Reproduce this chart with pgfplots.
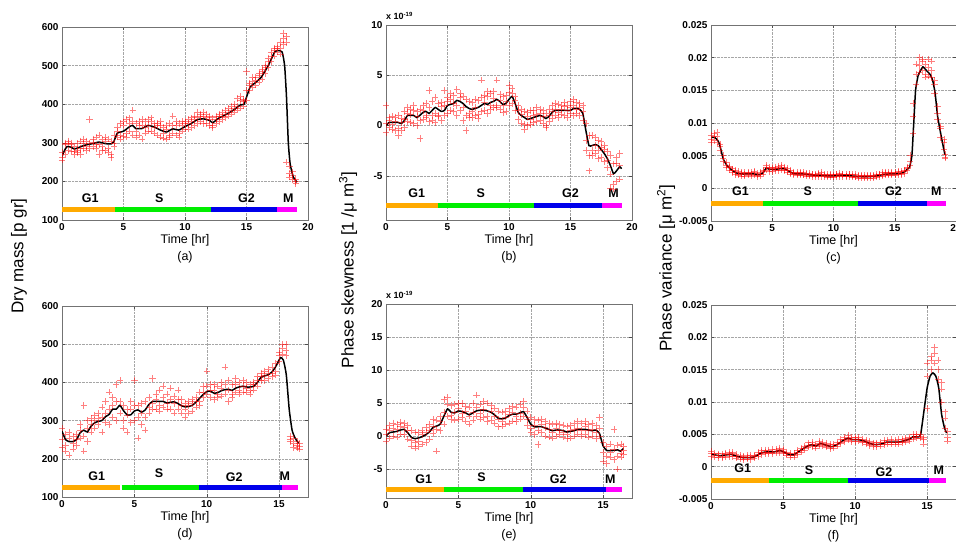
\documentclass[border=0pt]{standalone}
\usepackage{pgfplots}
\pgfplotsset{compat=1.18}
\usepackage{pgfplotstable}
\usepackage{fontspec}
\setmainfont{Liberation Sans}
\definecolor{cGa}{RGB}{255,170,0}
\definecolor{cS}{RGB}{0,238,0}
\definecolor{cGb}{RGB}{0,0,235}
\definecolor{cM}{RGB}{255,0,255}
\tikzset{lab/.style={font=\bfseries\fontsize{12.5}{14}\selectfont}}
\pgfplotsset{
  panel/.style={scale only axis, anchor=south west,
    axis line style={black!55}, tick style={black!70, line width=0.4pt}, major tick length=3pt,
    grid=major, major grid style={densely dotted, black!35},
    tick label style={font=\bfseries\fontsize{10}{12}\selectfont},
    scaled ticks=false,
    xlabel style={font=\fontsize{12.5}{17}\selectfont, align=center, at={(axis description cs:0.5,0)}, anchor=north, yshift=-11pt},
    xmin=0},
  sc/.style={only marks, mark=+, mark size=3.2pt, red, opacity=0.5, line width=0.5pt},
  ln/.style={black, line width=1.5pt, mark=none, smooth, tension=0.3},
  pb/.style={line width=5pt, mark=none}
}
% ---------- panel (a) ----------
\pgfplotstableread{
t a b c
0.00 255 275 262
0.25 270 295 300
0.50 300 280 305
0.75 278 295 300
1.00 270 290 278
1.25 298 280 275
1.50 305 285 270
1.75 285 300 310
2.00 280 305 290
2.25 360 285 300
2.50 310 290 302
2.75 285 315 295
3.00 320 295 270
3.25 290 310 280
3.50 315 280 305
3.75 310 275 285
4.00 270 305 262
4.25 290 320 300
4.50 340 315 330
4.75 350 320 310
5.00 345 318 355
5.25 360 325 315
5.50 365 330 350
5.75 385 320 355
6.00 350 315 330
6.25 320 355 345
6.50 310 345 360
6.75 355 325 340
7.00 360 330 345
7.25 330 355 365
7.50 325 350 340
7.75 350 320 345
8.00 315 345 355
8.25 340 312 325
8.50 310 345 335
8.75 350 320 315
9.00 370 325 345
9.25 345 320 355
9.50 350 325 315
9.75 355 330 345
10.00 335 355 350
10.25 360 335 350
10.50 340 365 355
10.75 370 345 360
11.00 380 350 365
11.25 355 375 368
11.50 370 350 380
11.75 375 350 365
12.00 345 370 360
12.25 365 345 340
12.50 350 370 360
12.75 355 375 368
13.00 380 360 370
13.25 365 385 375
13.50 390 370 380
13.75 375 395 385
14.00 400 380 390
14.25 385 415 395
14.50 410 390 420
14.75 395 412 408
15.00 435 410 485
15.25 450 435 455
15.50 460 445 470
15.75 470 450 462
16.00 475 458 480
16.25 485 465 490
16.50 500 480 495
16.75 510 495 520
17.00 525 510 535
17.25 540 525 545
17.50 550 535 545
17.75 545 560 530
18.00 570 555 585
18.25 575 560 250
18.50 220 240 212
18.75 215 205 225
19.00 200 195 205
}\tA
\pgfplotstableread{
t v
0 265
0.2 280
0.4 290
0.7 289
1.0 284
1.3 287
1.6 291
2.0 295
2.5 298
3.0 302
3.5 298
4.0 297
4.2 302
4.5 325
5.0 330
5.5 342
5.75 345
6.0 337
6.5 337
7.0 345
7.5 341
8.0 333
8.5 328
9.0 336
9.5 333
10.0 342
10.5 350
11.0 360
11.5 362
12.0 358
12.25 352
12.75 364
13.5 376
14.0 386
14.5 398
14.8 400
15.0 418
15.3 445
15.7 455
16.2 470
16.8 502
17.3 536
17.6 539
17.9 535
18.1 500
18.25 420
18.4 300
18.55 245
18.8 212
19.1 198
}\lA
% ---------- panel (b) ----------
\pgfplotstableread{
t a b c
0.00 0.2 -0.7 2.0
0.25 0.8 -0.2 0.5
0.50 -0.4 0.9 0.1
0.75 0.8 -0.5 0.4
1.00 -0.3 1.0 -1.0
1.25 0.7 -0.5 0.3
1.50 1.4 -0.2 0.6
1.75 0.4 1.8 1.2
2.00 1.6 0.3 1.1
2.25 0.2 1.5 2.0
2.50 1.4 0.0 0.9
2.75 -1.3 1.6 0.5
3.00 2.0 0.6 1.5
3.25 0.8 2.2 1.0
3.50 3.5 0.4 1.8
3.75 1.0 2.4 0.5
4.00 2.8 1.2 0.3
4.25 1.0 2.2 0.9
4.50 2.3 0.5 1.9
4.75 3.5 1.0 2.0
5.00 2.8 1.2 2.4
5.25 3.2 1.5 2.6
5.50 1.4 3.0 2.2
5.75 3.6 2.0 1.0
6.00 1.5 3.2 2.8
6.25 0.5 2.9 1.8
6.50 2.6 1.0 -0.5
6.75 1.2 2.4 0.8
7.00 2.3 0.8 1.4
7.25 1.0 2.6 1.8
7.50 2.5 1.1 0.7
7.75 4.5 1.4 2.8
8.00 1.5 3.0 2.3
8.25 2.9 1.2 3.4
8.50 1.6 3.2 2.0
8.75 3.4 1.8 2.7
9.00 4.5 2.0 1.8
9.25 1.6 3.1 2.5
9.50 2.9 1.3 2.0
9.75 1.4 3.0 2.4
10.00 4.0 2.0 3.3
10.25 3.7 2.2 3.2
10.50 1.5 2.9 2.5
10.75 2.0 0.6 1.5
11.00 0.2 1.6 1.1
11.25 1.4 0.1 -0.4
11.50 0.0 1.3 0.9
11.75 1.5 0.1 0.6
12.00 0.3 1.5 1.0
12.25 1.8 0.4 1.1
12.50 0.5 1.6 1.2
12.75 1.5 0.2 0.9
13.00 0.0 1.2 -0.2
13.25 1.6 0.4 1.0
13.50 0.7 2.0 1.4
13.75 2.2 1.0 1.6
14.00 0.8 2.1 1.3
14.25 2.0 1.1 1.6
14.50 1.0 2.3 1.9
14.75 2.0 0.8 1.5
15.00 2.4 1.2 1.8
15.25 1.0 2.6 2.0
15.50 2.3 1.2 1.6
15.75 1.0 2.2 1.8
16.00 2.0 0.5 1.4
16.25 -1.5 0.2 -2.5
16.50 -3.0 -1.0 -4.5
16.75 -2.5 -1.0 -3.0
17.00 -1.2 -2.8 -2.0
17.25 -2.5 -1.5 -3.3
17.50 -1.6 -3.2 -2.2
17.75 -2.4 -3.6 -2.0
18.00 -3.5 -2.6 -4.2
18.25 -3.0 -6.2 -4.8
18.50 -5.8 -3.8 -6.3
18.75 -3.2 -5.5 -3.8
19.00 -2.8 -5.3 -4.0
}\tB
\pgfplotstableread{
t v
0 0.0
0.25 0.3
0.5 0.3
0.75 0.3
1.0 0.3
1.25 0.2
1.5 0.5
1.75 1.0
2.0 1.0
2.25 1.0
2.5 0.8
2.75 1.0
3.0 1.3
3.25 1.4
3.5 1.2
3.75 1.5
4.0 1.8
4.25 1.6
4.5 1.4
4.75 1.5
5.0 2.0
5.25 2.1
5.5 2.2
5.75 2.5
6.0 2.4
6.25 2.2
6.5 1.9
6.75 1.7
7.0 1.6
7.25 1.7
7.5 1.8
7.75 2.0
8.0 2.2
8.25 2.1
8.5 2.3
8.75 2.4
9.0 2.6
9.25 2.4
9.5 2.1
9.75 2.2
10.0 2.6
10.25 2.9
10.5 2.2
10.75 1.3
11.0 1.0
11.25 0.8
11.5 0.6
11.75 0.7
12.0 0.8
12.25 0.9
12.5 1.0
12.75 0.9
13.0 0.7
13.25 0.9
13.5 1.3
13.75 1.5
14.0 1.5
14.5 1.5
15.0 1.5
15.25 1.7
15.5 1.7
15.75 1.6
16.0 1.2
16.25 -0.5
16.5 -2.0
16.75 -2.0
17.0 -1.9
17.25 -2.0
17.5 -2.4
17.75 -2.8
18.0 -3.3
18.25 -4.0
18.5 -4.8
18.75 -4.5
19.0 -4.1
19.15 -4.3
}\lB
% ---------- panel (c) ----------
\pgfplotstableread{
t a b c
0.00 0.0075 0.0082 0.0070
0.25 0.0084 0.0073 0.0080
0.50 0.0070 0.0079 0.0086
0.75 0.0068 0.0058 0.0065
1.00 0.0050 0.0041 0.0046
1.25 0.0033 0.0040 0.0035
1.50 0.0034 0.0028 0.0032
1.75 0.0024 0.0030 0.0027
2.00 0.0027 0.0021 0.0025
2.25 0.0020 0.0026 0.0022
2.50 0.0025 0.0019 0.0023
2.75 0.0019 0.0024 0.0021
3.00 0.0025 0.0020 0.0023
3.25 0.0019 0.0024 0.0022
3.50 0.0024 0.0020 0.0026
3.75 0.0018 0.0023 0.0020
4.00 0.0024 0.0019 0.0022
4.25 0.0028 0.0022 0.0026
4.50 0.0035 0.0028 0.0033
4.75 0.0032 0.0026 0.0030
5.00 0.0026 0.0032 0.0029
5.25 0.0033 0.0027 0.0030
5.50 0.0027 0.0034 0.0031
5.75 0.0035 0.0028 0.0033
6.00 0.0027 0.0033 0.0029
6.25 0.0031 0.0025 0.0027
6.50 0.0022 0.0027 0.0024
6.75 0.0025 0.0021 0.0023
7.00 0.0020 0.0024 0.0022
7.25 0.0024 0.0020 0.0023
7.50 0.0020 0.0024 0.0021
7.75 0.0023 0.0019 0.0022
8.00 0.0019 0.0023 0.0020
8.25 0.0022 0.0018 0.0021
8.50 0.0018 0.0022 0.0020
8.75 0.0023 0.0018 0.0021
9.00 0.0018 0.0022 0.0025
9.25 0.0022 0.0018 0.0020
9.50 0.0017 0.0021 0.0019
9.75 0.0021 0.0017 0.0020
10.00 0.0017 0.0021 0.0018
10.25 0.0022 0.0018 0.0021
10.50 0.0018 0.0023 0.0020
10.75 0.0022 0.0018 0.0021
11.00 0.0018 0.0022 0.0019
11.25 0.0022 0.0018 0.0021
11.50 0.0017 0.0021 0.0019
11.75 0.0021 0.0017 0.0018
12.00 0.0016 0.0020 0.0018
12.25 0.0020 0.0016 0.0019
12.50 0.0016 0.0020 0.0017
12.75 0.0020 0.0016 0.0018
13.00 0.0016 0.0020 0.0019
13.25 0.0020 0.0016 0.0018
13.50 0.0017 0.0021 0.0019
13.75 0.0022 0.0018 0.0021
14.00 0.0019 0.0024 0.0021
14.25 0.0025 0.0020 0.0023
14.50 0.0020 0.0025 0.0022
14.75 0.0025 0.0020 0.0023
15.00 0.0020 0.0025 0.0022
15.25 0.0026 0.0021 0.0024
15.50 0.0021 0.0026 0.0023
15.75 0.0028 0.0023 0.0026
16.00 0.0033 0.0027 0.0031
16.25 0.0035 0.0050 0.0042
16.50 0.0085 0.0110 0.0130
16.75 0.0160 0.0175 0.0190
17.00 0.0200 0.0188 0.0178
17.25 0.0195 0.0180 0.0198
17.50 0.0175 0.0190 0.0170
17.75 0.0198 0.0185 0.0172
18.00 0.0195 0.0180 0.0170
18.25 0.0165 0.0145 0.0160
18.50 0.0125 0.0105 0.0115
18.75 0.0092 0.0078 0.0095
19.00 0.0060 0.0070 0.0075
19.10 0.0048 0.0052 0.0046
}\tC
\pgfplotstableread{
t v
0 0.0078
0.3 0.0078
0.6 0.0072
0.8 0.0060
1.0 0.0045
1.3 0.0035
1.7 0.0028
2.0 0.0024
2.5 0.0022
3.0 0.0022
3.5 0.0022
4.0 0.0021
4.3 0.0025
4.5 0.0031
4.8 0.0029
5.2 0.0029
5.6 0.0030
6.0 0.0030
6.3 0.0027
6.7 0.0023
7.0 0.0022
7.5 0.0022
8.0 0.0021
8.5 0.0020
9.0 0.0020
9.5 0.0019
10.0 0.0019
10.5 0.0020
11.0 0.0020
11.5 0.0019
12.0 0.0018
12.5 0.0018
13.0 0.0018
13.5 0.0019
14.0 0.0021
14.5 0.0022
15.0 0.0022
15.5 0.0023
15.8 0.0025
16.0 0.0029
16.2 0.0032
16.4 0.0050
16.55 0.0100
16.7 0.0150
16.9 0.0172
17.1 0.0180
17.3 0.0186
17.6 0.0180
17.9 0.0174
18.1 0.0165
18.3 0.0145
18.5 0.0110
18.8 0.0079
19.1 0.0051
}\lC
% ---------- panel (d) ----------
\pgfplotstableread{
t a b c
0.00 230 280 250
0.25 220 265 235
0.50 210 255 270
0.75 240 225 260
1.00 265 235 250
1.25 290 255 275
1.50 340 260 220
1.75 280 245 300
2.00 305 270 290
2.25 315 280 300
2.50 290 320 305
2.75 270 310 335
3.00 350 295 320
3.25 330 290 375
3.50 360 310 340
3.75 300 350 395
4.00 405 320 350
4.25 340 300 280
4.50 270 330 315
4.75 295 350 330
5.00 405 300 340
5.25 255 340 310
5.50 290 345 320
5.75 275 350 310
6.00 360 320 335
6.25 410 345 330
6.50 370 330 355
6.75 340 380 325
7.00 360 335 390
7.25 330 370 345
7.50 385 330 355
7.75 345 365 320
8.00 380 330 355
8.25 320 355 340
8.50 345 310 330
8.75 350 320 340
9.00 325 355 345
9.25 360 335 350
9.50 350 375 340
9.75 390 360 375
10.00 430 370 390
10.25 395 360 380
10.50 380 355 395
10.75 360 390 370
11.00 400 365 385
11.25 440 370 395
11.50 380 350 405
11.75 395 370 360
12.00 410 375 395
12.25 380 400 370
12.50 405 375 390
12.75 375 400 385
13.00 395 370 380
13.25 400 380 395
13.50 415 390 405
13.75 425 405 415
14.00 430 405 420
14.25 410 425 435
14.50 440 415 425
14.75 430 450 420
15.00 470 480 455
15.25 490 475 500
15.50 485 500 470
15.75 260 245 250
16.00 240 255 230
16.25 235 245 228
16.40 232 240 225
}\tD
\pgfplotstableread{
t v
0 272
0.25 250
0.5 245
0.75 245
1.0 250
1.25 268
1.5 275
1.75 270
2.0 285
2.25 294
2.5 298
2.75 300
3.0 310
3.25 316
3.5 330
3.75 330
4.0 340
4.25 326
4.5 315
4.75 315
5.0 325
5.25 328
5.5 322
5.75 328
6.0 342
6.25 350
6.5 350
7.0 350
7.25 346
7.5 348
7.75 349
8.0 345
8.25 339
8.5 336
8.75 337
9.0 340
9.25 348
9.5 358
9.75 368
10.0 376
10.25 377
10.5 372
10.75 373
11.0 378
11.25 381
11.5 382
11.75 379
12.0 385
12.25 388
12.5 390
12.75 388
13.0 388
13.25 390
13.5 400
13.75 413
14.0 417
14.25 420
14.5 427
14.75 440
15.1 465
15.3 458
15.5 420
15.7 330
15.9 275
16.1 255
16.35 240
}\lD
% ---------- panel (e) ----------
\pgfplotstableread{
t a b c
0.00 -0.8 1.0 0.3
0.25 1.6 -0.3 0.9
0.50 2.0 0.0 1.2
0.75 -0.2 1.8 1.0
1.00 2.1 0.3 1.5
1.25 0.2 2.0 1.3
1.50 1.6 -0.5 0.8
1.75 -1.5 0.8 -0.6
2.00 0.6 -1.8 -1.0
2.25 -1.6 0.5 -0.8
2.50 0.8 -1.2 0.2
2.75 -1.0 1.3 0.5
3.00 1.8 -0.5 0.9
3.25 2.5 0.4 1.5
3.50 -2.3 2.4 1.0
3.75 3.0 0.8 2.2
4.00 5.5 1.8 3.6
4.25 5.8 3.0 4.8
4.50 2.5 4.6 3.2
4.75 4.8 2.4 3.6
5.00 2.6 5.0 4.2
5.25 4.9 2.8 3.4
5.50 2.3 4.5 3.8
5.75 4.4 1.8 3.0
6.00 2.4 5.0 3.6
6.25 6.2 3.0 4.4
6.50 2.6 4.8 3.5
6.75 5.2 2.8 4.0
7.00 3.0 5.0 2.2
7.25 4.6 2.4 3.8
7.50 2.0 4.2 3.0
7.75 3.8 1.4 2.6
8.00 1.5 3.6 2.2
8.25 3.8 1.8 2.9
8.50 2.0 4.2 3.3
8.75 4.5 2.3 3.6
9.00 2.2 4.4 3.0
9.25 4.8 2.6 3.4
9.50 5.3 3.0 4.4
9.75 1.6 3.8 2.5
10.00 0.5 2.8 1.2
10.25 2.5 0.2 1.6
10.50 -1.3 2.4 0.8
10.75 2.6 0.5 1.8
11.00 0.0 2.2 1.3
11.25 2.0 -0.2 1.0
11.50 -0.3 1.8 0.6
11.75 2.0 0.0 1.2
12.00 0.2 1.8 0.9
12.25 1.7 -0.2 0.6
12.50 -0.4 1.5 0.3
12.75 1.6 -0.3 0.8
13.00 0.0 2.0 1.0
13.25 2.2 0.3 1.2
13.50 0.0 2.0 0.8
13.75 2.2 0.2 1.5
14.00 -0.2 1.8 0.8
14.25 2.0 0.0 1.0
14.50 -0.4 1.6 0.6
14.75 2.8 0.0 1.2
15.00 -3.8 -1.0 -2.5
15.25 -3.0 -1.5 -4.2
15.50 -1.2 -3.2 -2.4
15.75 -3.6 1.0 -2.0
16.00 -5.0 -1.4 -3.0
16.25 -3.2 -1.2 -2.6
16.40 -2.2 -1.5 -2.8
}\tE
\pgfplotstableread{
t v
0 0.0
0.25 0.5
0.5 0.6
0.75 0.7
1.0 0.9
1.25 1.0
1.5 0.5
1.75 -0.2
2.0 -0.4
2.25 -0.3
2.5 -0.1
2.75 0.2
3.0 0.6
3.25 1.3
3.5 1.5
3.75 1.8
4.0 3.0
4.25 4.1
4.5 3.6
4.75 3.5
5.0 3.8
5.25 3.7
5.5 3.5
5.75 3.2
6.0 3.5
6.25 3.8
6.5 3.9
6.75 3.9
7.0 3.8
7.25 3.6
7.5 3.2
7.75 2.7
8.0 2.6
8.25 2.7
8.5 3.1
8.75 3.3
9.0 3.3
9.25 3.5
9.5 3.7
9.75 2.8
10.0 1.8
10.25 1.4
10.5 1.4
10.75 1.4
11.0 1.2
11.25 1.0
11.5 0.8
11.75 0.9
12.0 0.9
12.25 0.8
12.5 0.6
12.75 0.7
13.0 0.8
13.25 1.0
13.5 1.0
13.75 1.0
14.0 0.9
14.25 0.8
14.5 0.9
14.75 0.4
15.0 -1.5
15.25 -2.2
15.5 -2.2
15.75 -2.2
16.0 -2.1
16.2 -2.3
16.4 -1.9
}\lE
% ---------- panel (f) ----------
\pgfplotstableread{
t a b c
0.00 0.0024 0.0016 0.0021
0.25 0.0015 0.0021 0.0018
0.50 0.0020 0.0014 0.0017
0.75 0.0014 0.0020 0.0016
1.00 0.0021 0.0015 0.0019
1.25 0.0016 0.0022 0.0019
1.50 0.0022 0.0016 0.0020
1.75 0.0013 0.0019 0.0016
2.00 0.0017 0.0012 0.0015
2.25 0.0011 0.0016 0.0014
2.50 0.0017 0.0012 0.0014
2.75 0.0011 0.0017 0.0015
3.00 0.0018 0.0013 0.0016
3.25 0.0016 0.0022 0.0019
3.50 0.0025 0.0019 0.0022
3.75 0.0020 0.0026 0.0023
4.00 0.0026 0.0020 0.0023
4.25 0.0020 0.0027 0.0023
4.50 0.0027 0.0021 0.0024
4.75 0.0022 0.0029 0.0025
5.00 0.0027 0.0021 0.0024
5.25 0.0018 0.0023 0.0020
5.50 0.0015 0.0021 0.0018
5.75 0.0021 0.0015 0.0018
6.00 0.0019 0.0025 0.0022
6.25 0.0029 0.0023 0.0026
6.50 0.0026 0.0032 0.0029
6.75 0.0037 0.0030 0.0033
7.00 0.0031 0.0038 0.0034
7.25 0.0035 0.0029 0.0032
7.50 0.0033 0.0039 0.0036
7.75 0.0038 0.0032 0.0035
8.00 0.0030 0.0036 0.0033
8.25 0.0034 0.0028 0.0031
8.50 0.0029 0.0035 0.0032
8.75 0.0038 0.0032 0.0035
9.00 0.0036 0.0042 0.0038
9.25 0.0045 0.0039 0.0042
9.50 0.0041 0.0049 0.0044
9.75 0.0046 0.0039 0.0042
10.00 0.0039 0.0045 0.0042
10.25 0.0046 0.0040 0.0043
10.50 0.0037 0.0043 0.0040
10.75 0.0041 0.0035 0.0038
11.00 0.0033 0.0039 0.0036
11.25 0.0037 0.0031 0.0034
11.50 0.0031 0.0037 0.0034
11.75 0.0038 0.0032 0.0035
12.00 0.0034 0.0041 0.0037
12.25 0.0041 0.0035 0.0038
12.50 0.0035 0.0042 0.0038
12.75 0.0041 0.0035 0.0038
13.00 0.0035 0.0042 0.0038
13.25 0.0043 0.0037 0.0040
13.50 0.0038 0.0044 0.0041
13.75 0.0046 0.0040 0.0043
14.00 0.0043 0.0050 0.0046
14.25 0.0050 0.0044 0.0047
14.50 0.0044 0.0050 0.0047
14.75 0.0035 0.0042 0.0045
15.00 0.0090 0.0140 0.0160
15.25 0.0170 0.0150 0.0165
15.50 0.0185 0.0160 0.0175
15.75 0.0150 0.0135 0.0165
16.00 0.0120 0.0100 0.0130
16.25 0.0075 0.0060 0.0085
16.40 0.0045 0.0055 0.0040
}\tF
\pgfplotstableread{
t v
0 0.0020
0.3 0.0018
0.6 0.0017
1.0 0.0018
1.4 0.0019
1.8 0.0016
2.2 0.0014
2.6 0.0014
3.0 0.0015
3.3 0.0019
3.6 0.0022
4.0 0.0023
4.4 0.0023
4.8 0.0025
5.1 0.0022
5.4 0.0019
5.7 0.0018
6.0 0.0022
6.4 0.0028
6.8 0.0033
7.0 0.0034
7.3 0.0032
7.6 0.0036
8.0 0.0033
8.4 0.0031
8.8 0.0035
9.2 0.0041
9.5 0.0044
9.8 0.0042
10.2 0.0042
10.6 0.0040
11.0 0.0036
11.4 0.0034
11.8 0.0035
12.2 0.0038
12.6 0.0038
13.0 0.0038
13.4 0.0040
13.8 0.0043
14.0 0.0046
14.4 0.0046
14.55 0.0050
14.8 0.0090
15.0 0.0122
15.2 0.0140
15.4 0.0145
15.6 0.0140
15.8 0.0122
16.0 0.0081
16.2 0.0060
16.35 0.0052
}\lF
\begin{document}
\begin{tikzpicture}
\useasboundingbox (0pt,0pt) rectangle (956pt,554pt);
% (a)
\begin{axis}[panel, at={(62pt,334pt)}, width=246pt, height=193pt,
  xmax=20, ymin=100, ymax=600, xtick={0,5,10,15,20}, xticklabels={0,5,10,15,20},
  ytick={100,200,300,400,500,600}, yticklabels={100,200,300,400,500,600},
  xlabel={Time [hr]\\(a)}]
\addplot[sc] table[x=t,y=a]{\tA};
\addplot[sc] table[x=t,y=b]{\tA};
\addplot[sc] table[x=t,y=c]{\tA};
\addplot[ln] table[x=t,y=v]{\lA};
\addplot[pb,cGa] coordinates {(0,128) (4.3,128)};
\addplot[pb,cS] coordinates {(4.3,128) (12.1,128)};
\addplot[pb,cGb] coordinates {(12.1,128) (17.5,128)};
\addplot[pb,cM] coordinates {(17.5,128) (19.1,128)};
\node[lab] at (axis cs:2.3,157) {G1};
\node[lab] at (axis cs:7.9,157) {S};
\node[lab] at (axis cs:15.0,157) {G2};
\node[lab] at (axis cs:18.4,157) {M};
\end{axis}
% (b)
\begin{axis}[panel, at={(386pt,334pt)}, width=246pt, height=195pt,
  xmax=20, ymin=-9.4, ymax=10, xtick={0,5,10,15,20}, xticklabels={0,5,10,15,20},
  ytick={-5,0,5,10}, yticklabels={-5,0,5,10},
  xlabel={Time [hr]\\(b)}]
\addplot[sc] table[x=t,y=a]{\tB};
\addplot[sc] table[x=t,y=b]{\tB};
\addplot[sc] table[x=t,y=c]{\tB};
\addplot[ln] table[x=t,y=v]{\lB};
\addplot[pb,cGa] coordinates {(0,-8) (4.25,-8)};
\addplot[pb,cS] coordinates {(4.25,-8) (12.0,-8)};
\addplot[pb,cGb] coordinates {(12.0,-8) (17.6,-8)};
\addplot[pb,cM] coordinates {(17.6,-8) (19.2,-8)};
\node[lab] at (axis cs:2.5,-6.7) {G1};
\node[lab] at (axis cs:7.7,-6.7) {S};
\node[lab] at (axis cs:15.0,-6.7) {G2};
\node[lab] at (axis cs:18.5,-6.7) {M};
\end{axis}
% (c)
\begin{axis}[panel, at={(711pt,333pt)}, width=245pt, height=196pt,
  xmax=20, ymin=-0.005, ymax=0.025, xtick={0,5,10,15,20}, xticklabels={0,5,10,15,20},
  ytick={-0.005,0,0.005,0.01,0.015,0.02,0.025}, yticklabels={-0.005,0,0.005,0.01,0.015,0.02,0.025},
  xlabel={Time [hr]\\(c)}]
\addplot[sc] table[x=t,y=a]{\tC};
\addplot[sc] table[x=t,y=b]{\tC};
\addplot[sc] table[x=t,y=c]{\tC};
\addplot[ln] table[x=t,y=v]{\lC};
\addplot[pb,cGa] coordinates {(0,-0.0023) (4.25,-0.0023)};
\addplot[pb,cS] coordinates {(4.25,-0.0023) (12.0,-0.0023)};
\addplot[pb,cGb] coordinates {(12.0,-0.0023) (17.6,-0.0023)};
\addplot[pb,cM] coordinates {(17.6,-0.0023) (19.15,-0.0023)};
\node[lab] at (axis cs:2.4,-0.0005) {G1};
\node[lab] at (axis cs:7.9,-0.0005) {S};
\node[lab] at (axis cs:14.9,-0.0005) {G2};
\node[lab] at (axis cs:18.4,-0.0005) {M};
\end{axis}
% (d)
\begin{axis}[panel, at={(62pt,57pt)}, width=246pt, height=191pt,
  xmax=17, ymin=100, ymax=600, xtick={0,5,10,15}, xticklabels={0,5,10,15},
  ytick={100,200,300,400,500,600}, yticklabels={100,200,300,400,500,600},
  xlabel={Time [hr]\\(d)}]
\addplot[sc] table[x=t,y=a]{\tD};
\addplot[sc] table[x=t,y=b]{\tD};
\addplot[sc] table[x=t,y=c]{\tD};
\addplot[ln] table[x=t,y=v]{\lD};
\addplot[pb,cGa] coordinates {(0,126) (4.03,126)};
\addplot[pb,cS] coordinates {(4.12,126) (9.47,126)};
\addplot[pb,cGb] coordinates {(9.47,126) (15.18,126)};
\addplot[pb,cM] coordinates {(15.18,126) (16.3,126)};
\node[lab] at (axis cs:2.4,154) {G1};
\node[lab] at (axis cs:6.7,162) {S};
\node[lab] at (axis cs:11.9,151) {G2};
\node[lab] at (axis cs:15.4,154) {M};
\end{axis}
% (e)
\begin{axis}[panel, at={(386pt,56pt)}, width=246pt, height=194pt,
  xmax=17, ymin=-9.4, ymax=20, xtick={0,5,10,15}, xticklabels={0,5,10,15},
  ytick={-5,0,5,10,15,20}, yticklabels={-5,0,5,10,15,20},
  xlabel={Time [hr]\\(e)}]
\addplot[sc] table[x=t,y=a]{\tE};
\addplot[sc] table[x=t,y=b]{\tE};
\addplot[sc] table[x=t,y=c]{\tE};
\addplot[ln] table[x=t,y=v]{\lE};
\addplot[pb,cGa] coordinates {(0,-8.1) (4.04,-8.1)};
\addplot[pb,cS] coordinates {(4.04,-8.1) (9.47,-8.1)};
\addplot[pb,cGb] coordinates {(9.47,-8.1) (15.2,-8.1)};
\addplot[pb,cM] coordinates {(15.2,-8.1) (16.33,-8.1)};
\node[lab] at (axis cs:2.6,-6.6) {G1};
\node[lab] at (axis cs:6.6,-6.3) {S};
\node[lab] at (axis cs:11.9,-6.6) {G2};
\node[lab] at (axis cs:15.5,-6.6) {M};
\end{axis}
% (f)
\begin{axis}[panel, at={(711pt,55pt)}, width=245pt, height=194pt,
  xmax=17, ymin=-0.005, ymax=0.025, xtick={0,5,10,15}, xticklabels={0,5,10,15},
  ytick={-0.005,0,0.005,0.01,0.015,0.02,0.025}, yticklabels={-0.005,0,0.005,0.01,0.015,0.02,0.025},
  xlabel={Time [hr]\\(f)}]
\addplot[sc] table[x=t,y=a]{\tF};
\addplot[sc] table[x=t,y=b]{\tF};
\addplot[sc] table[x=t,y=c]{\tF};
\addplot[ln] table[x=t,y=v]{\lF};
\addplot[pb,cGa] coordinates {(0,-0.0022) (4.03,-0.0022)};
\addplot[pb,cS] coordinates {(4.03,-0.0022) (9.49,-0.0022)};
\addplot[pb,cGb] coordinates {(9.49,-0.0022) (15.16,-0.0022)};
\addplot[pb,cM] coordinates {(15.16,-0.0022) (16.31,-0.0022)};
\node[lab] at (axis cs:2.2,-0.0002) {G1};
\node[lab] at (axis cs:6.8,-0.0005) {S};
\node[lab] at (axis cs:12.0,-0.0008) {G2};
\node[lab] at (axis cs:15.8,-0.0005) {M};
\end{axis}
% y labels and exponents
\node[rotate=90, font=\fontsize{17}{17}\selectfont] at (19pt,298pt) {Dry mass [p gr]};
\node[rotate=90, font=\fontsize{17}{17}\selectfont] at (348pt,284pt) {Phase skewness [1 /μ m\textsuperscript{3}]};
\node[rotate=90, font=\fontsize{17}{17}\selectfont] at (666pt,286pt) {Phase variance [μ m\textsuperscript{2}]};
\node[anchor=west, font=\bfseries\fontsize{9}{10}\selectfont, inner sep=0pt] at (386pt,538pt) {x 10\textsuperscript{-19}};
\node[anchor=west, font=\bfseries\fontsize{9}{10}\selectfont, inner sep=0pt] at (386pt,259pt) {x 10\textsuperscript{-19}};
\end{tikzpicture}
\end{document}
